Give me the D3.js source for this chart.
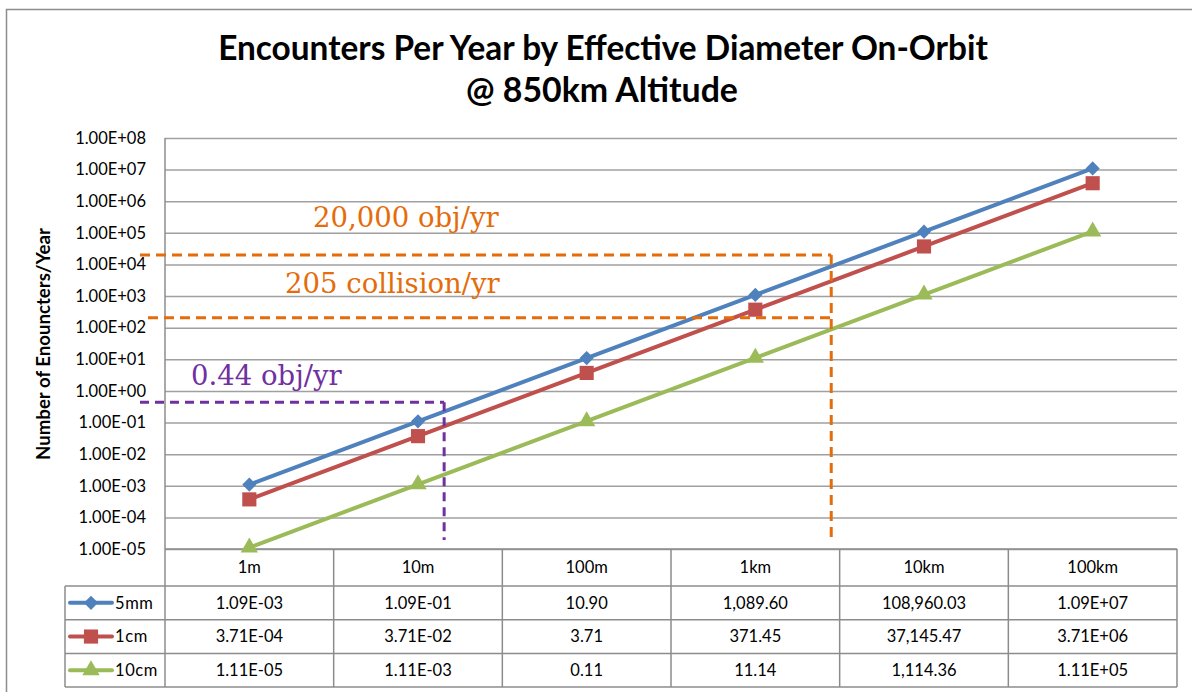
<!DOCTYPE html>
<html>
<head>
<meta charset="utf-8">
<script src="https://cdn.jsdelivr.net/npm/d3@7"></script>
<style>
  body { margin: 0; background: #fff; }
  svg { display: block; }
</style>
</head>
<body>
<svg width="1192" height="692"></svg>
<script>
// Chart data
const categories = ["1m", "10m", "100m", "1km", "10km", "100km"];
const seriesNames = ["5mm", "1cm", "10cm"];
const values5mm = [1.09e-3, 1.09e-1, 10.90, 1089.60, 108960.03, 1.09e7];
const values1cm = [3.71e-4, 3.71e-2, 3.71, 371.45, 37145.47, 3.71e6];
const values10cm = [1.11e-5, 1.11e-3, 0.11, 11.14, 1114.36, 1.11e5];
const labels5mm = ["1.09E-03", "1.09E-01", "10.90", "1,089.60", "108,960.03", "1.09E+07"];
const labels1cm = ["3.71E-04", "3.71E-02", "3.71", "371.45", "37,145.47", "3.71E+06"];
const labels10cm = ["1.11E-05", "1.11E-03", "0.11", "11.14", "1,114.36", "1.11E+05"];
const yTicks = [1e-5, 1e-4, 1e-3, 1e-2, 1e-1, 1e0, 1e1, 1e2, 1e3, 1e4, 1e5, 1e6, 1e7, 1e8];

// Annotation lines: value level and the category position (index) where the drop line sits
const annotationLabels = ["20,000 obj/yr", "205 collision/yr", "0.44 obj/yr"];
const annotationValues = [20000, 205, 0.44];
const annotationCatIndex = [3.45, 3.45, 1.155];

const title1 = "Encounters Per Year by Effective Diameter On-Orbit";
const title2 = "@ 850km Altitude";
const yTitle = "Number of Enouncters/Year";

const series = [
    { name: seriesNames[0], values: values5mm, labels: labels5mm, color: "#4F81BD", shape: "diamond" },
    { name: seriesNames[1], values: values1cm, labels: labels1cm, color: "#C0504D", shape: "square" },
    { name: seriesNames[2], values: values10cm, labels: labels10cm, color: "#9BBB59", shape: "triangle" }
];

const svg = d3.select("svg");
const sans = "Lato, 'Liberation Sans', sans-serif";
const serif = "'DejaVu Serif', serif";
const gridColor = "#a0a0a0";
const orange = "#E46C0A";
const purple = "#7030A0";

// Layout
const plot = { left: 165, right: 1177, top: 138, bottom: 549 };
const table = { left: 65, headerBottom: 586, rowH: 33.7 };

const x = d3.scaleBand().domain(categories).range([plot.left, plot.right]).padding(0);
const xc = i => x(categories[0]) + x.bandwidth() * (i + 0.5);
const y = d3.scaleLog().domain([1e-5, 1e8]).range([plot.bottom, plot.top]);

// Outer chart border
svg.append("rect")
    .attr("x", 6.5).attr("y", 9.5)
    .attr("width", 1300).attr("height", 800)
    .attr("fill", "none").attr("stroke", "#8c8c8c").attr("stroke-width", 1.5);

// Title
const titleG = svg.append("g").attr("font-family", sans).attr("font-weight", "bold").attr("fill", "#000");
function fitText(sel, w) {
    const len = sel.node().getComputedTextLength();
    const fs = parseFloat(sel.attr("font-size"));
    sel.attr("font-size", fs * w / len);
}
const t1 = titleG.append("text").attr("x", 603).attr("y", 60)
    .attr("text-anchor", "middle").attr("font-size", 27).text(title1);
fitText(t1, 770);
const t2 = titleG.append("text").attr("x", 602).attr("y", 102)
    .attr("text-anchor", "middle").attr("font-size", 27).text(title2);
fitText(t2, 272);

// Gridlines
const yFmt = v => {
    const e = Math.round(Math.log10(v));
    return "1.00E" + (e < 0 ? "-" : "+") + String(Math.abs(e)).padStart(2, "0");
};
const grid = svg.append("g")
    .attr("transform", `translate(${plot.left},0)`)
    .call(d3.axisLeft(y).tickValues(yTicks).tickSize(-(plot.right - plot.left)).tickFormat(""));
grid.select(".domain").remove();
grid.selectAll(".tick line").attr("stroke", gridColor).attr("stroke-width", 1.5);

// Y axis labels
const yAxis = svg.append("g")
    .attr("transform", `translate(${plot.left},0)`)
    .call(d3.axisLeft(y).tickValues(yTicks).tickSize(0).tickPadding(19).tickFormat(yFmt));
yAxis.select(".domain").remove();
yAxis.selectAll("text").attr("font-family", sans).attr("font-size", 16.5).attr("fill", "#000");

// Y axis title
const yt = svg.append("text")
    .attr("transform", "translate(50,344) rotate(-90)")
    .attr("text-anchor", "middle")
    .attr("font-family", sans).attr("font-weight", "bold").attr("font-size", 15)
    .text(yTitle);
fitText(yt, 232);

// Table / axis frame lines
const frame = svg.append("g").attr("stroke", "#8c8c8c").attr("stroke-width", 1.5).attr("fill", "none");
const rowYs = [0, 1, 2, 3].map(i => table.headerBottom + i * table.rowH);
frame.append("line").attr("x1", plot.left).attr("x2", plot.right).attr("y1", plot.bottom).attr("y2", plot.bottom);
rowYs.forEach(ry => {
    frame.append("line").attr("x1", table.left).attr("x2", plot.right).attr("y1", ry).attr("y2", ry);
});
const tableBottom = rowYs[3];
frame.append("line").attr("x1", plot.left).attr("x2", plot.left).attr("y1", plot.top).attr("y2", tableBottom);
frame.append("line").attr("x1", table.left).attr("x2", table.left).attr("y1", table.headerBottom).attr("y2", tableBottom);
categories.forEach((c, i) => {
    const bx = x(c) + x.bandwidth();
    frame.append("line").attr("x1", bx).attr("x2", bx).attr("y1", plot.bottom).attr("y2", tableBottom);
});

// Category labels
svg.append("g").selectAll("text")
    .data(categories).join("text")
    .attr("x", d => x(d) + x.bandwidth() / 2)
    .attr("y", (plot.bottom + table.headerBottom) / 2)
    .attr("dy", "0.35em")
    .attr("text-anchor", "middle")
    .attr("font-family", sans).attr("font-size", 16.5)
    .text(d => d);

// Marker helper
function marker(g, shape, color) {
    if (shape === "diamond") {
        g.append("path").attr("d", d3.symbol(d3.symbolSquare, 100)()).attr("transform", "rotate(45)").attr("fill", color);
    } else if (shape === "square") {
        g.append("path").attr("d", d3.symbol(d3.symbolSquare, 200)()).attr("fill", color);
    } else {
        g.append("path").attr("d", d3.symbol(d3.symbolTriangle, 130)()).attr("fill", color);
    }
}

// Table rows
series.forEach((s, si) => {
    const cy = rowYs[si] + table.rowH / 2;
    const lg = svg.append("g");
    lg.append("line").attr("x1", 70).attr("x2", 112).attr("y1", cy).attr("y2", cy)
        .attr("stroke", s.color).attr("stroke-width", 4).attr("stroke-linecap", "round");
    marker(lg.append("g").attr("transform", `translate(91,${cy})`), s.shape, s.color);
    lg.append("text").attr("x", 115).attr("y", cy).attr("dy", "0.35em")
        .attr("font-family", sans).attr("font-size", 16.5).attr("letter-spacing", 0.6).text(s.name);
    svg.append("g").selectAll("text")
        .data(s.labels).join("text")
        .attr("x", (d, i) => xc(i))
        .attr("y", cy).attr("dy", "0.35em")
        .attr("text-anchor", "middle")
        .attr("font-family", sans).attr("font-size", 16.5)
        .text(d => d);
});

// Series lines and markers
const line = d3.line().x((d, i) => xc(i)).y(d => y(d));
series.forEach(s => {
    svg.append("path").datum(s.values)
        .attr("d", line)
        .attr("fill", "none").attr("stroke", s.color).attr("stroke-width", 4)
        .attr("stroke-linejoin", "round");
    s.values.forEach((v, i) => {
        marker(svg.append("g").attr("transform", `translate(${xc(i)},${y(v)})`), s.shape, s.color);
    });
});

// Annotations (dashed guide lines + serif labels)
const annColors = [orange, orange, purple];
const annStartX = [140, 148, 140];
const annDropBottom = [542, null, 540];
const annLabelPos = [[313, 227], [285, 293], [191, 385]];
annotationValues.forEach((v, i) => {
    const ay = y(v);
    const ax = xc(annotationCatIndex[i]);
    const col = annColors[i];
    const dash = i === 2 ? "9,6" : "10,6";
    const sw = 3;
    svg.append("line").attr("x1", annStartX[i]).attr("x2", ax).attr("y1", ay).attr("y2", ay)
        .attr("stroke", col).attr("stroke-width", sw).attr("stroke-dasharray", dash);
    if (annDropBottom[i] !== null) {
        svg.append("line").attr("x1", ax).attr("x2", ax).attr("y1", ay).attr("y2", annDropBottom[i])
            .attr("stroke", col).attr("stroke-width", sw).attr("stroke-dasharray", dash);
    }
    svg.append("text").attr("x", annLabelPos[i][0]).attr("y", annLabelPos[i][1])
        .attr("font-family", serif).attr("font-size", 27.5).attr("fill", col)
        .text(annotationLabels[i]);
});
</script>
</body>
</html>
